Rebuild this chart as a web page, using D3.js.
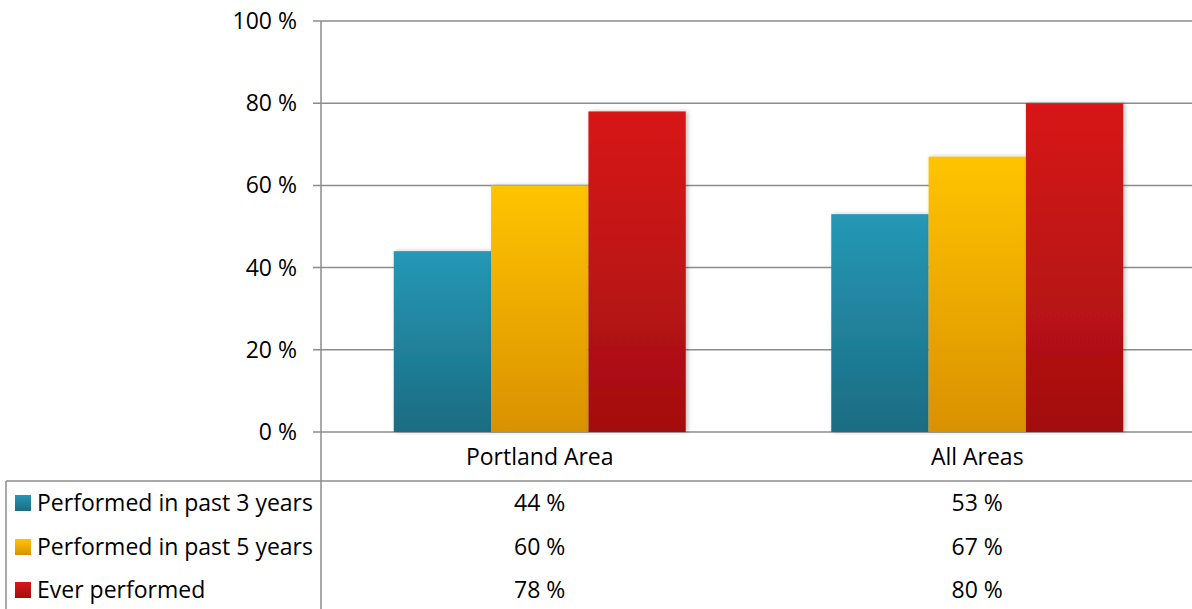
<!DOCTYPE html>
<meta charset="utf-8">
<style>
body { margin: 0; background: #fff; }
text { font-family: "Open Sans", Lato, sans-serif; fill: #000; }
</style>
<body>
<script src="https://d3js.org/d3.v7.min.js"></script>
<script>

// chart data
var categories = ["Portland Area", "All Areas"];
var seriesNames = ["Performed in past 3 years", "Performed in past 5 years", "Ever performed"];
var past3 = [44, 53];
var past5 = [60, 67];
var ever = [78, 80];
var yTicks = [0, 20, 40, 60, 80, 100];

var seriesValues = [past3, past5, ever];
var colors = [
  {top: "#2598b6", bottom: "#1c6c82"},
  {top: "#ffc400", bottom: "#da9100"},
  {top: "#d71718", bottom: "#a30f10"}
];

var W = 1192, H = 609;
var plotLeft = 321, plotRight = 1192, plotTop = 21, plotBottom = 432;

var svg = d3.select("body").append("svg")
    .attr("width", W)
    .attr("height", H);

var defs = svg.append("defs");
colors.forEach(function(c, i) {
  var g = defs.append("linearGradient")
      .attr("id", "grad" + i)
      .attr("x1", 0).attr("y1", 0).attr("x2", 0).attr("y2", 1);
  g.append("stop").attr("offset", "0%").attr("stop-color", c.top);
  g.append("stop").attr("offset", "100%").attr("stop-color", c.bottom);
});
var f = defs.append("filter").attr("id", "shadow")
    .attr("x", "-10%").attr("y", "-10%").attr("width", "130%").attr("height", "120%");
f.append("feDropShadow").attr("dx", 2).attr("dy", 0).attr("stdDeviation", 2)
    .attr("flood-color", "#000").attr("flood-opacity", 0.25);

// plot area runs a little past the right edge of the picture
var x0 = d3.scaleBand().domain(categories).range([plotLeft, plotRight + 4]);
var y = d3.scaleLinear().domain([0, 100]).range([plotBottom, plotTop]);
var groupWidth = 292;
var x1 = d3.scaleBand().domain(d3.range(seriesNames.length)).range([0, groupWidth]);

// gridlines with outward ticks
svg.append("g").selectAll("line").data(yTicks).enter().append("line")
    .attr("x1", plotLeft - 8).attr("x2", plotRight)
    .attr("y1", function(d) { return y(d); })
    .attr("y2", function(d) { return y(d); })
    .attr("stroke", "#8c8c8c").attr("stroke-width", 1.5);

// y labels
svg.append("g").selectAll("text").data(yTicks).enter().append("text")
    .attr("x", 297)
    .attr("y", function(d) { return y(d); })
    .attr("dy", "0.35em")
    .attr("text-anchor", "end")
    .style("font-size", "23px")
    .text(function(d) { return d + " %"; });

// bars
categories.forEach(function(cat, ci) {
  var gx = x0(cat) + (x0.bandwidth() - groupWidth) / 2;
  seriesValues.forEach(function(vals, si) {
    svg.append("rect")
        .attr("x", gx + x1(si))
        .attr("y", y(vals[ci]))
        .attr("width", x1.bandwidth())
        .attr("height", y(0) - y(vals[ci]))
        .attr("fill", "url(#grad" + si + ")")
        .attr("filter", "url(#shadow)");
  });
});

// axis line and table frame
svg.append("line").attr("x1", plotLeft).attr("x2", plotLeft)
    .attr("y1", plotTop).attr("y2", H)
    .attr("stroke", "#8c8c8c").attr("stroke-width", 1.5);
svg.append("line").attr("x1", 6).attr("x2", plotRight)
    .attr("y1", 481).attr("y2", 481)
    .attr("stroke", "#8c8c8c").attr("stroke-width", 1.5);
svg.append("line").attr("x1", 6).attr("x2", 6)
    .attr("y1", 481).attr("y2", H)
    .attr("stroke", "#8c8c8c").attr("stroke-width", 1.5);

// category labels
svg.append("g").selectAll("text").data(categories).enter().append("text")
    .attr("x", function(d) { return x0(d) + x0.bandwidth() / 2; })
    .attr("y", 457)
    .attr("dy", "0.35em")
    .attr("text-anchor", "middle")
    .style("font-size", "23px")
    .text(function(d) { return d; });

// data table rows
var rowY = [503, 547, 590];
seriesNames.forEach(function(name, si) {
  svg.append("rect")
      .attr("x", 15).attr("y", rowY[si] - 8)
      .attr("width", 16).attr("height", 16)
      .attr("fill", "url(#grad" + si + ")");
  svg.append("text")
      .attr("x", 37).attr("y", rowY[si])
      .attr("dy", "0.35em")
      .style("font-size", "23px")
      .text(name);
  categories.forEach(function(cat, ci) {
    svg.append("text")
        .attr("x", x0(cat) + x0.bandwidth() / 2)
        .attr("y", rowY[si])
        .attr("dy", "0.35em")
        .attr("text-anchor", "middle")
        .style("font-size", "23px")
        .text(seriesValues[si][ci] + " %");
  });
});

</script>
</body>
